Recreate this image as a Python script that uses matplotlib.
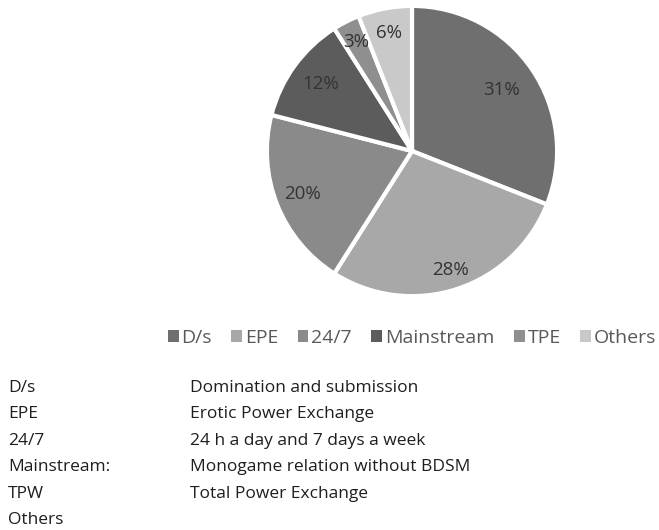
import numpy as np
import matplotlib.pyplot as plt
from matplotlib.patches import Patch

categorias = ["D/s", "EPE", "24/7", "Mainstream", "TPE", "Others"]
porcentajes = [31, 28, 20, 12, 3, 6]
colores = ["#6f6f6f", "#a8a8a8", "#8a8a8a", "#5c5c5c", "#8f8f8f", "#c9c9c9"]

abreviaturas = ["D/s", "EPE", "24/7", "Mainstream:", "TPW", "Others"]
significados = ["Domination and submission", "Erotic Power Exchange",
                "24 h a day and 7 days a week", "Monogame relation without BDSM",
                "Total Power Exchange", ""]

plt.rcParams['font.family'] = ['Open Sans', 'DejaVu Sans']

fig = plt.figure(figsize=(6.59, 5.30), dpi=100)
ax = fig.add_axes([0.4006, 0.4358, 0.4492, 0.5585])

wedges, textos, pcts = ax.pie(porcentajes, colors=colores, startangle=90, counterclock=False,
                              autopct='%d%%', pctdistance=0.8,
                              wedgeprops=dict(edgecolor='white', linewidth=3),
                              textprops=dict(fontsize=13.5, color='#333333'))
# distancia radial de cada etiqueta
dist = [0.75, 0.86, 0.81, 0.78, 0.84, 0.83]
for t, d in zip(pcts, dist):
    x, y = t.get_position()
    r = np.hypot(x, y)
    t.set_position((x / r * d, y / r * d))
ax.set_xlim(-1.02, 1.02)
ax.set_ylim(-1.02, 1.02)
ax.set_aspect('equal')

handles = [Patch(facecolor=c, edgecolor='none') for c in colores]
fig.legend(handles, categorias, loc='center', bbox_to_anchor=(412 / 659, 1 - 338 / 530),
           ncol=6, frameon=False, handlelength=0.55, handleheight=0.55, handletextpad=0.15,
           columnspacing=1.0, fontsize=14, labelcolor='#595959')

y0 = 388
for i in range(len(abreviaturas)):
    fig.text(8 / 659, 1 - (y0 + i * 26.4) / 530, abreviaturas[i], fontsize=12.5,
             color='#1e1e1e', va='center')
    fig.text(190 / 659, 1 - (y0 + i * 26.4) / 530, significados[i], fontsize=12.5,
             color='#1e1e1e', va='center')

fig.savefig("out.png", dpi=100)
